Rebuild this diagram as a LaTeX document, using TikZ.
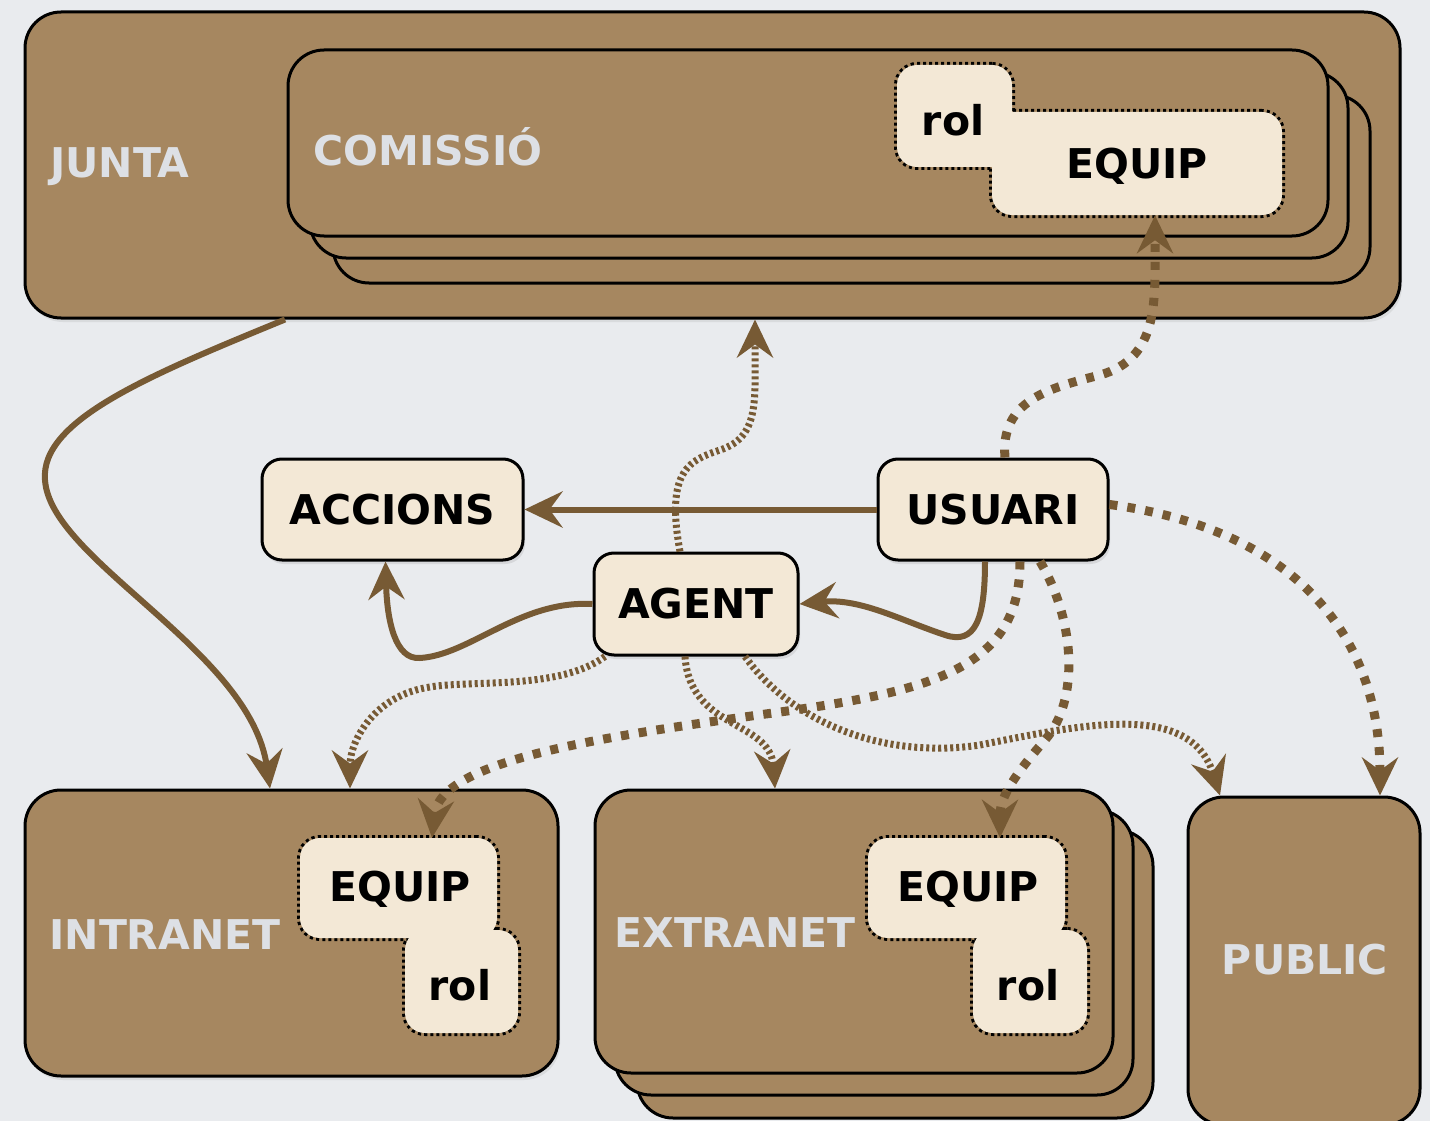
\documentclass[tikz,border=0pt]{standalone}
\usepackage{fontspec}
\setmainfont{DejaVu Sans}
\usetikzlibrary{arrows.meta,shadows}
\definecolor{bg}{HTML}{E9EBEE}
\definecolor{boxbrown}{HTML}{A68760}
\definecolor{cream}{HTML}{F3E8D6}
\definecolor{arrowbrown}{HTML}{775A34}
\definecolor{labelgrey}{HTML}{DDE0E5}
\tikzset{
  bigbox/.style={draw=black, line width=3pt, fill=boxbrown, rounded corners=36pt, inner sep=0pt},
  backbox/.style={draw=black, line width=3pt, fill=boxbrown, rounded corners=36pt, inner sep=0pt},
  boxlabel/.style={text=labelgrey, font=\fontsize{41}{49}\selectfont\bfseries, inner sep=0pt},
  entity/.style={draw=black, line width=3pt, fill=cream, rounded corners=20pt, inner sep=0pt,
    font=\fontsize{41}{49}\selectfont\bfseries, text=black,
    drop shadow={shadow xshift=2pt, shadow yshift=-4pt, opacity=0.18}},
  subline/.style={draw=black, line width=6pt, dash pattern=on 3pt off 3pt, rounded corners=20pt, inner sep=0pt},
  subfill/.style={fill=cream, rounded corners=20pt, inner sep=0pt,
    font=\fontsize{41}{49}\selectfont\bfseries, text=black},
  tip/.style={-{Stealth[length=38pt,width=36pt,inset=13pt]}},
  solidarrow/.style={draw=arrowbrown, line width=6pt, tip},
  dasharrow/.style={draw=arrowbrown, line width=9pt, dash pattern=on 8pt off 10pt, tip},
  dotarrow/.style={draw=arrowbrown, line width=7pt, dash pattern=on 3pt off 3pt, tip},
}
\begin{document}
\begin{tikzpicture}[x=1pt, y=-1pt]
\useasboundingbox (0,0) rectangle (1430,1121);
\fill[bg] (0,0) rectangle (1430,1121);

% JUNTA
\node[bigbox, minimum width=1375pt, minimum height=306pt,
  drop shadow={shadow xshift=2pt, shadow yshift=-4pt, opacity=0.15}] (junta) at (712.5,165) {};
\node[boxlabel] (juntalabel) at (120,167) {JUNTA};

% COMISSIO stack
\node[backbox, minimum width=1037pt, minimum height=188pt] (comis3) at (851.5,189) {};
\node[backbox, minimum width=1038pt, minimum height=186pt] (comis2) at (829,165) {};
\node[backbox, minimum width=1040pt, minimum height=186pt] (comis) at (808,143) {};
\node[boxlabel] (comislabel) at (428,147) {COMISSIÓ};

% rol + EQUIP in COMISSIO
\node[subline, minimum width=115pt, minimum height=102pt] (rolAo) at (954.5,116) {};
\node[subline, minimum width=290pt, minimum height=103pt] (equipAo) at (1137,163.5) {};
\node[subfill, minimum width=115pt, minimum height=102pt] (rolA) at (954.5,116) {};
\node[subfill, minimum width=290pt, minimum height=103pt] (equipA) at (1137,163.5) {};
\node[font=\fontsize{41}{49}\selectfont\bfseries, inner sep=0pt] (rolAt) at (953,120) {rol};
\node[font=\fontsize{41}{49}\selectfont\bfseries, inner sep=0pt] (equipAt) at (1137,166) {EQUIP};

% INTRANET
\node[bigbox, minimum width=533pt, minimum height=286pt,
  drop shadow={shadow xshift=2pt, shadow yshift=-4pt, opacity=0.15}] (intranet) at (291.5,933) {};
\node[boxlabel] (intranetlabel) at (165,935) {INTRANET};
\node[subline, minimum width=197pt, minimum height=100pt] (equipIo) at (398.5,888) {};
\node[subline, minimum width=113pt, minimum height=103pt] (rolIo) at (461.5,981.5) {};
\node[subfill, minimum width=197pt, minimum height=100pt] (equipI) at (398.5,888) {};
\node[subfill, minimum width=113pt, minimum height=103pt] (rolI) at (461.5,981.5) {};
\node[font=\fontsize{41}{49}\selectfont\bfseries, inner sep=0pt] (equipIt) at (400,889) {EQUIP};
\node[font=\fontsize{41}{49}\selectfont\bfseries, inner sep=0pt] (rolIt) at (460,985) {rol};

% EXTRANET stack
\node[backbox, minimum width=516pt, minimum height=288pt] (extra3) at (895,974) {};
\node[backbox, minimum width=518pt, minimum height=285pt] (extra2) at (874,952.5) {};
\node[backbox, minimum width=518pt, minimum height=283pt] (extranet) at (854,931.5) {};
\node[boxlabel] (extralabel) at (735,933) {EXTRANET};
\node[subline, minimum width=197pt, minimum height=100pt] (equipEo) at (966.5,888) {};
\node[subline, minimum width=114pt, minimum height=103pt] (rolEo) at (1030,981.5) {};
\node[subfill, minimum width=197pt, minimum height=100pt] (equipE) at (966.5,888) {};
\node[subfill, minimum width=114pt, minimum height=103pt] (rolE) at (1030,981.5) {};
\node[font=\fontsize{41}{49}\selectfont\bfseries, inner sep=0pt] (equipEt) at (968,889) {EQUIP};
\node[font=\fontsize{41}{49}\selectfont\bfseries, inner sep=0pt] (rolEt) at (1028,985) {rol};

% PUBLIC
\node[bigbox, minimum width=232pt, minimum height=328pt] (public) at (1304,961) {};
\node[boxlabel] (publiclabel) at (1305,960) {PUBLIC};

% central entities
\node[entity, minimum width=261pt, minimum height=101pt] (accions) at (392.5,509.5) {ACCIONS};
\node[entity, minimum width=230pt, minimum height=101pt] (usuari) at (993,509.5) {USUARI};
\node[entity, minimum width=204pt, minimum height=102pt] (agent) at (696,604) {AGENT};

% solid arrows
\draw[solidarrow] ([xshift=-427.5pt]junta.south) .. controls (150,375) and (40,420) .. (45,480)
   .. controls (50,560) and (250,650) .. ([xshift=-21.5pt]intranet.north);
\draw[solidarrow] (usuari.west) -- (accions.east);
\draw[solidarrow] ([xshift=-8pt]usuari.south) .. controls (985,620) and (975,645) .. (945,635)
   .. controls (900,620) and (860,598) .. (agent.east);
\draw[solidarrow] (agent.west) .. controls (520,600) and (470,655) .. (420,658)
   .. controls (395,660) and (387,620) .. ([xshift=-7pt]accions.south);

% fine dotted arrows from AGENT
\draw[dotarrow] ([xshift=-16pt]agent.north) .. controls (665,470) and (690,460) .. (720,450)
   .. controls (760,437) and (755,400) .. ([xshift=42.5pt]junta.south);
\draw[dotarrow] ([xshift=-91pt]agent.south) .. controls (560,690) and (470,680) .. (430,687)
   .. controls (375,695) and (350,740) .. ([xshift=58.5pt]intranet.north);
\draw[dotarrow] ([xshift=-11pt]agent.south) .. controls (690,730) and (770,720) .. ([xshift=-79pt]extranet.north);
\draw[dotarrow] ([xshift=49pt]agent.south) .. controls (790,720) and (880,760) .. (980,745)
   .. controls (1080,725) and (1190,700) .. ([xshift=-84pt]public.north);

% dashed arrows from USUARI
\draw[dasharrow] ([xshift=12pt]usuari.north) .. controls (1000,400) and (1050,388) .. (1100,375)
   .. controls (1160,358) and (1155,300) .. ([xshift=18pt]equipA.south);
\draw[dasharrow] ([yshift=5pt]usuari.east) .. controls (1300,530) and (1380,640) .. ([xshift=76pt]public.north);
\draw[dasharrow] ([xshift=27pt]usuari.south) .. controls (1020,665) and (940,690) .. (780,712)
   .. controls (600,737) and (440,760) .. ([xshift=33.5pt]equipI.north);
\draw[dasharrow] ([xshift=47pt]usuari.south) .. controls (1075,620) and (1080,700) .. (1045,740)
   .. controls (1010,780) and (1000,800) .. ([xshift=33.5pt]equipE.north);
\end{tikzpicture}
\end{document}
